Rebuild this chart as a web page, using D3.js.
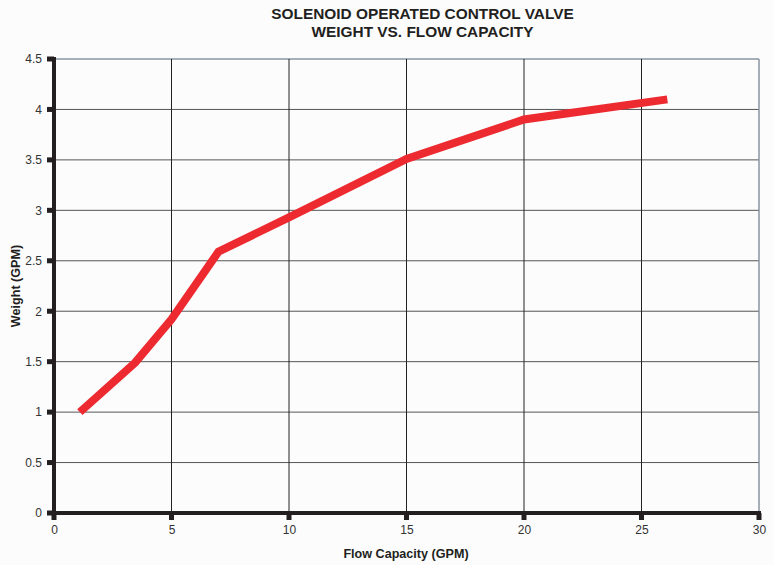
<!DOCTYPE html>
<html><head><meta charset="utf-8">
<script src="https://cdn.jsdelivr.net/npm/d3@7"></script>
<style>body{margin:0;background:#fcfcfd;} svg{display:block;font-family:"Liberation Sans",Arial,sans-serif;}</style>
</head><body>
<svg id="c" width="774" height="565"></svg>
<script>
const flow = [1.1, 3.45, 5, 7, 10, 15, 20, 26.1];
const weight = [1.0, 1.49, 1.92, 2.59, 2.93, 3.51, 3.9, 4.1];
const xTicks = [0, 5, 10, 15, 20, 25, 30];
const yTicks = [0, 0.5, 1, 1.5, 2, 2.5, 3, 3.5, 4, 4.5];
const titleLines = ["SOLENOID OPERATED CONTROL VALVE", "WEIGHT VS. FLOW CAPACITY"];

const svg = d3.select("#c");
const x = d3.scaleLinear().domain([0, 30]).range([54, 759]);
const y = d3.scaleLinear().domain([0, 4.5]).range([513, 59]);

// grid
svg.append("g").selectAll("line").data(yTicks.slice(1)).join("line")
  .attr("x1", x(0)).attr("x2", x(30)).attr("y1", d => y(d)).attr("y2", d => y(d))
  .attr("stroke", d => d === 4.5 ? "#8a96a0" : "#555").attr("stroke-width", d => d === 4.5 ? 1.5 : 1);
svg.append("g").selectAll("line").data(xTicks.slice(1)).join("line")
  .attr("y1", y(0)).attr("y2", y(4.5)).attr("x1", d => x(d)).attr("x2", d => x(d))
  .attr("stroke", d => d === 30 ? "#8a96a0" : "#222").attr("stroke-width", d => d === 30 ? 1.5 : 1);

// axes
const xAxis = svg.append("g").attr("transform", `translate(0,${y(0)})`)
  .call(d3.axisBottom(x).tickValues(xTicks).tickSize(0).tickPadding(12).tickFormat(d3.format("d")));
xAxis.select(".domain").remove();
xAxis.selectAll("text").attr("font-size", 12).attr("fill", "#333");
const yAxis = svg.append("g").attr("transform", `translate(${x(0)},0)`)
  .call(d3.axisLeft(y).tickValues(yTicks).tickSize(0).tickPadding(12).tickFormat(d => String(d)));
yAxis.select(".domain").remove();
yAxis.selectAll("text").attr("font-size", 12).attr("fill", "#333");

// tick squares
svg.append("g").selectAll("rect").data(xTicks).join("rect")
  .attr("x", d => x(d) - 2.5).attr("y", y(0)).attr("width", 5).attr("height", 7).attr("fill", "#231f20");
svg.append("g").selectAll("rect").data(yTicks).join("rect")
  .attr("x", x(0) - 7).attr("y", d => y(d) - 2.5).attr("width", 7).attr("height", 5).attr("fill", "#231f20");

svg.append("line").attr("x1", x(0)).attr("x2", x(0)).attr("y1", y(4.5) - 2).attr("y2", y(0) + 2)
  .attr("stroke", "#231f20").attr("stroke-width", 4);
svg.append("line").attr("x1", x(0) - 2).attr("x2", x(30) + 2).attr("y1", y(0)).attr("y2", y(0))
  .attr("stroke", "#231f20").attr("stroke-width", 4);

// line
const pts = flow.map((f, i) => [f, weight[i]]);
svg.append("path").datum(pts)
  .attr("d", d3.line().x(d => x(d[0])).y(d => y(d[1])))
  .attr("fill", "none").attr("stroke", "#ec2a30").attr("stroke-width", 8).attr("stroke-linejoin", "miter");

// titles
svg.append("g").selectAll("text").data(titleLines).join("text")
  .attr("x", 422.5).attr("y", (d, i) => 19 + i * 17.5).attr("text-anchor", "middle")
  .attr("font-size", 15.4).attr("font-weight", "bold").attr("fill", "#231f20").text(d => d);
svg.append("text").attr("x", 406).attr("y", 558).attr("text-anchor", "middle")
  .attr("font-size", 12.6).attr("font-weight", "bold").attr("fill", "#231f20").text("Flow Capacity (GPM)");
svg.append("text").attr("transform", "translate(19.5,286) rotate(-90)").attr("text-anchor", "middle")
  .attr("font-size", 12.6).attr("font-weight", "bold").attr("fill", "#231f20").text("Weight (GPM)");
</script>
</body></html>
